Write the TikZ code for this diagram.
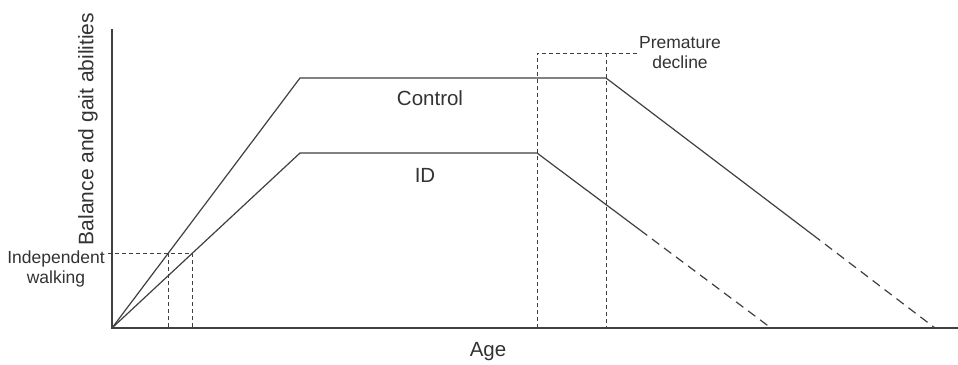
\documentclass[tikz,border=0pt]{standalone}
\usepackage{fontspec}
\setmainfont{Liberation Sans}
\begin{document}
\begin{tikzpicture}[x=1pt,y=-1pt,
  curve/.style={draw=black!75, line width=1.2pt},
  guide/.style={draw=black!75, line width=1pt, dash pattern=on 4pt off 3pt},
  tail/.style={draw=black!75, line width=1.2pt, dash pattern=on 9pt off 6pt},
  lbl/.style={text=black!80, inner sep=0pt, align=center},
  big/.style={font=\fontsize{20.5}{23}\selectfont},
  small/.style={font=\fontsize{17.5}{20}\selectfont}]
\useasboundingbox[fill=white] (0,0) rectangle (958,364);
% axes
\coordinate (O) at (112,328);
\coordinate (ytop) at (112,29);
\coordinate (xend) at (958,328);
\draw[curve] (ytop) -- (O) -- (xend);
% control
\coordinate (c1) at (300,78);
\coordinate (c2) at (606,78);
\coordinate (c3) at (813,235);
\coordinate (c4) at (935,328);
\draw[curve] (O) -- (c1) -- (c2) -- (c3);
\draw[tail] (c3) -- (c4);
% ID
\coordinate (d1) at (300,153);
\coordinate (d2) at (537,153);
\coordinate (d3) at (640,230);
\coordinate (d4) at (771,328);
\draw[curve] (O) -- (d1) -- (d2) -- (d3);
\draw[tail] (d3) -- (d4);
% independent walking guides
\coordinate (w0) at (108,253);
\coordinate (wa) at (168,253);
\coordinate (wb) at (192,253);
\coordinate (wa0) at (168,328);
\coordinate (wb0) at (192,328);
\draw[guide] (w0) -- (wb) -- (wb0);
\draw[guide] (wa) -- (wa0);
% premature decline guides
\coordinate (p1) at (537,53);
\coordinate (p2) at (606,53);
\coordinate (p3) at (637,53);
\coordinate (p10) at (537,328);
\coordinate (p20) at (606,328);
\draw[guide] (p10) -- (p1) -- (p3);
\draw[guide] (p2) -- (p20);
% labels
\node[lbl, font=\fontsize{21}{23}\selectfont] (ylab) at (88,129) [rotate=90] {Balance and gait abilities};
\node[lbl, big] (xlab) at (488,352) {Age};
\node[lbl, big] (ctl) at (430,98) {Control};
\node[lbl, big] (idl) at (425,175) {ID};
\node[lbl, small] (iw) at (56,269) {Independent\\walking};
\node[lbl, small] (pd) at (680,53) {Premature\\decline};
\end{tikzpicture}
\end{document}
